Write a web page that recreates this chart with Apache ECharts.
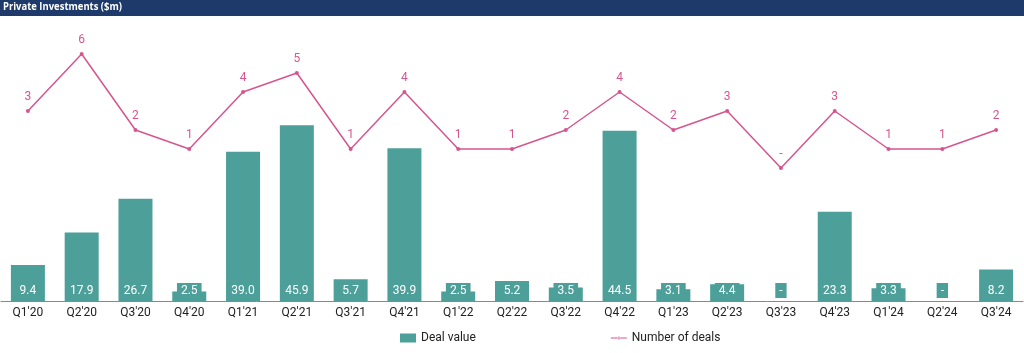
<!DOCTYPE html>
<html>
<head>
<meta charset="utf-8">
<script src="https://cdn.jsdelivr.net/npm/echarts@6/dist/echarts.min.js"></script>
<style>
  html, body { margin: 0; padding: 0; background: #fff; }
  #chart { width: 1024px; height: 353px; }
</style>
</head>
<body>
<div id="chart"></div>
<script>
// quarters
const categories = ["Q1'20", "Q2'20", "Q3'20", "Q4'20", "Q1'21", "Q2'21", "Q3'21", "Q4'21", "Q1'22", "Q2'22",
  "Q3'22", "Q4'22", "Q1'23", "Q2'23", "Q3'23", "Q4'23", "Q1'24", "Q2'24", "Q3'24"]
// deal value ($m)
const dealValue = [9.4, 17.9, 26.7, 2.5, 39.0, 45.9, 5.7, 39.9, 2.5, 5.2, 3.5, 44.5, 3.1, 4.4, 0, 23.3, 3.3, 0, 8.2]
// number of deals
const dealCount = [3, 6, 2, 1, 4, 5, 1, 4, 1, 1, 2, 4, 2, 3, 0, 3, 1, 1, 2]

const teal = '#4d9f99'
const pink = '#d6558f'

const myChart = echarts.init(document.getElementById('chart'))
const option = {
  animation: false,
  textStyle: { fontFamily: 'Roboto' },
  graphic: [
    {
      type: 'rect',
      left: 0, top: 0,
      shape: { width: 1024, height: 16 },
      style: { fill: '#1d3a6a' },
    },
    {
      type: 'text',
      x: 3, y: 1,
      scaleX: 0.86,
      style: {
        text: 'Private Investments ($m)',
        fill: '#fff',
        font: 'bold 11px "Open Sans"',
      },
    },
  ],
  legend: {
    left: 395,
    top: 327,
    itemGap: 135,
    itemWidth: 16,
    itemHeight: 9,
    symbolKeepAspect: true,
    textStyle: { fontSize: 12, color: '#222' },
    data: [
      { name: 'Deal value', icon: 'rect', itemStyle: { borderWidth: 0 } },
      { name: 'Number of deals', icon: 'path://M0,3.9h16v1.2h-16z M8,3a1.5,1.5 0 1,0 0.01,0z' },
    ],
  },
  grid: {
    left: 1,
    right: 1,
    top: 25.5,
    bottom: 52,
  },
  xAxis: {
    type: 'category',
    data: categories,
    axisTick: { show: false },
    axisLine: { lineStyle: { color: '#888', width: 1 } },
    axisLabel: { color: '#222', fontSize: 12, margin: 6, interval: 0 },
  },
  yAxis: [
    { type: 'value', min: 0, max: 72, show: false, splitLine: { show: false } },
    { type: 'value', min: -7, max: 7.5, show: false, splitLine: { show: false } },
  ],
  series: [
    {
      name: 'Deal value',
      type: 'bar',
      data: dealValue,
      barWidth: 34,
      itemStyle: { color: teal },
      label: {
        show: true,
        position: 'insideBottom',
        distance: 3,
        color: '#fff',
        fontSize: 12,
        backgroundColor: teal,
        padding: [2, 4, 1, 4],
        formatter: p => (p.value === 0 ? '-' : p.value.toFixed(1)),
      },
    },
    {
      name: 'Number of deals',
      type: 'line',
      yAxisIndex: 1,
      data: dealCount,
      symbol: 'circle',
      symbolSize: 4,
      lineStyle: { color: pink, width: 1.5 },
      itemStyle: { color: pink },
      label: {
        show: true,
        position: 'top',
        distance: 6,
        color: pink,
        fontSize: 12,
        formatter: p => (p.value === 0 ? '-' : p.value),
      },
    },
  ],
}
myChart.setOption(option)
</script>
</body>
</html>
